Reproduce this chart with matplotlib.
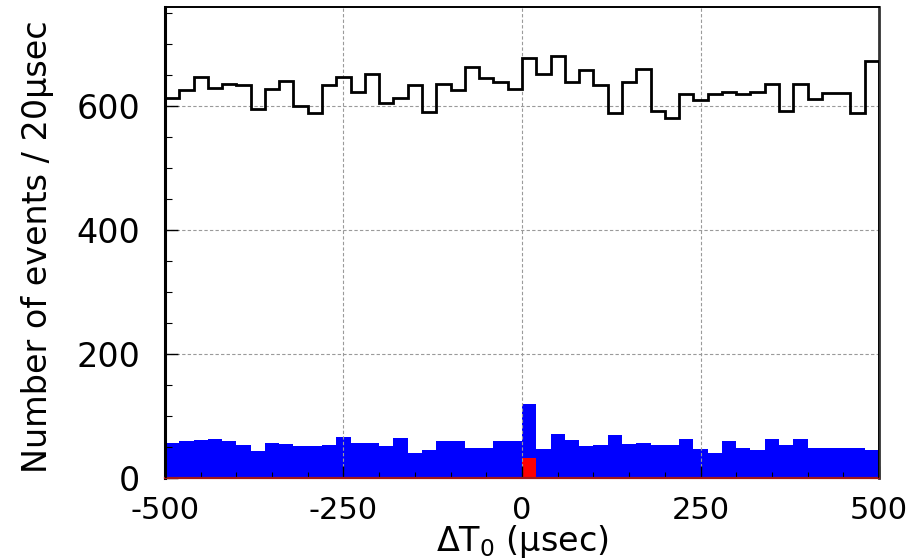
import numpy as np
import matplotlib
matplotlib.use("Agg")
import matplotlib.pyplot as plt
from matplotlib.ticker import MultipleLocator

# bin edges in usec, 20 usec per bin
edges = np.arange(-500, 501, 20)

# all events (black outline)
all_events = [614, 627, 648, 630, 636, 635, 595, 628, 641, 601,
              589, 635, 648, 623, 652, 605, 613, 635, 591, 636,
              627, 663, 646, 639, 628, 678, 652, 682, 639, 659,
              635, 590, 640, 661, 593, 582, 620, 611, 620, 624,
              620, 624, 636, 592, 636, 612, 622, 621, 590, 674]

# selected events (blue fill)
selected = [56, 60, 61, 63, 60, 53, 43, 57, 55, 52,
            51, 53, 66, 57, 57, 52, 64, 40, 45, 60,
            59, 48, 49, 60, 60, 119, 47, 71, 61, 52,
            53, 70, 55, 56, 53, 53, 63, 47, 40, 59,
            49, 45, 63, 54, 63, 49, 49, 49, 49, 45]

# in-time candidates (red fill)
candidates = [0] * 25 + [33] + [0] * 24

xticks = [-500, -250, 0, 250, 500]
yticks = [0, 200, 400, 600]

fig = plt.figure(figsize=(9.19, 5.6), dpi=100)
ax = fig.add_axes([0.1795, 0.1464, 0.9565 - 0.1795, 0.987 - 0.1464])

ax.stairs(selected, edges, fill=True, color="#0000ff", zorder=1)
ax.stairs(candidates, edges, fill=True, color="#ff0000", zorder=1.2)
ax.stairs(all_events, edges, color="black", linewidth=2.0, zorder=3)

ax.set_xlim(-500, 500)
ax.set_ylim(0, 760)
ax.set_xticks(xticks)
ax.set_yticks(yticks)
ax.set_xticklabels([str(v) for v in xticks])
ax.yaxis.set_minor_locator(MultipleLocator(50))
ax.xaxis.set_minor_locator(MultipleLocator(50))

ax.grid(True, which="major", color="#9a9a9a", linestyle=(0, (3, 2)), linewidth=0.8)

ax.tick_params(axis="both", which="both", direction="in", top=False, right=False)
ax.tick_params(axis="y", which="major", length=9, width=1, labelsize=24, pad=18)
ax.tick_params(axis="y", which="minor", length=5, width=0.8)
ax.tick_params(axis="x", which="major", length=9, width=1, labelsize=22, pad=13)
ax.tick_params(axis="x", which="minor", length=4, width=0.8)

ax.spines["left"].set_linewidth(2.2)
ax.spines["right"].set_linewidth(2.0)
ax.spines["right"].set_color("#333333")
ax.spines["top"].set_linewidth(1.4)
ax.spines["bottom"].set_color("#a01818")
ax.spines["bottom"].set_linewidth(1.6)

fig.text(38 / 919, 1 - 247 / 560, "Number of events / 20µsec", rotation=90,
         ha="center", va="center", fontsize=24)
fig.text(522 / 919, 1 - 541 / 560, "ΔT$_0$ (µsec)", ha="center", va="center",
         fontsize=24)

fig.savefig("out.png", dpi=100)
